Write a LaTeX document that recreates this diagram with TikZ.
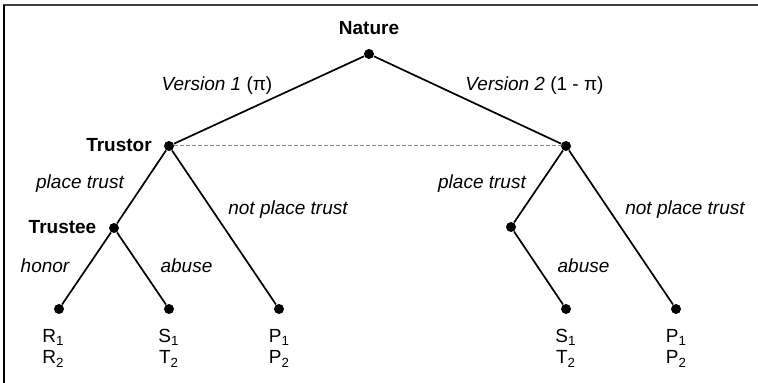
\documentclass[tikz,border=0pt]{standalone}
\usepackage{fontspec}
\setmainfont{Liberation Sans}
\newcommand{\dsize}{\fontsize{9.5}{11.5}\selectfont}
\begin{document}
\begin{tikzpicture}[x=0.5pt,y=-0.5pt,
  dot/.style={circle,fill=black,inner sep=0pt,minimum size=5pt},
  branch/.style={line width=0.85pt},
  info/.style={black!45,line width=0.5pt,dash pattern=on 2pt off 1pt},
  player/.style={anchor=base,inner sep=0pt,font=\dsize\bfseries},
  act/.style={anchor=base,inner sep=0pt,font=\dsize},
  pay/.style={anchor=base,inner sep=0pt,font=\dsize}]
\useasboundingbox (0,0) rectangle (758,383);
\draw[line width=1pt, black!75] (3,5) -- (758,5);
\draw[line width=1pt] (3.5,5) -- (3.5,383);
% decision nodes
\node[dot] (nat) at (369,54) {};
\node[dot] (tl) at (169,146) {};
\node[dot] (tr) at (566,146) {};
\node[dot] (tel) at (114,228) {};
\node[dot] (ter) at (511,227) {};
\node[dot] (l1) at (59,309) {};
\node[dot] (l2) at (169,309) {};
\node[dot] (l3) at (279,309) {};
\node[dot] (l4) at (566,309) {};
\node[dot] (l5) at (676,309) {};
% branches
\draw[branch] (nat) -- (tl);
\draw[branch] (nat) -- (tr);
\draw[branch] (tl) -- (tel);
\draw[branch] (tl) -- (l3);
\draw[branch] (tel) -- (l1);
\draw[branch] (tel) -- (l2);
\draw[branch] (tr) -- (ter);
\draw[branch] (tr) -- (l5);
\draw[branch] (ter) -- (l4);
\draw[info] (tl) -- (tr);
% player labels
\node[player] (natlab) at (369,35) {Nature};
\node[player] (tllab) at (119,152) {Trustor};
\node[player] (tellab) at (62.5,234) {Trustee};
% action labels
\node[act] (v1) at (217,91) {\itshape Version 1 \upshape(π)};
\node[act] (v2) at (534.5,91) {\itshape Version 2 \upshape(1 - π)};
\node[act] (ptl) at (80,189) {\itshape place trust};
\node[act] (ptr) at (482,189) {\itshape place trust};
\node[act] (nptl) at (288,215) {\itshape not place trust};
\node[act] (nptr) at (685,215) {\itshape not place trust};
\node[act] (hon) at (45,273) {\itshape honor};
\node[act] (abl) at (186.5,273) {\itshape abuse};
\node[act] (abr) at (583.5,273) {\itshape abuse};
% payoffs
\node[pay] (p1a) at (53.5,343) {R\textsubscript{1}};
\node[pay] (p1b) at (53.5,364) {R\textsubscript{2}};
\node[pay] (p2a) at (169,343) {S\textsubscript{1}};
\node[pay] (p2b) at (169,364) {T\textsubscript{2}};
\node[pay] (p3a) at (279.5,343) {P\textsubscript{1}};
\node[pay] (p3b) at (279.5,364) {P\textsubscript{2}};
\node[pay] (p4a) at (566,343) {S\textsubscript{1}};
\node[pay] (p4b) at (566,364) {T\textsubscript{2}};
\node[pay] (p5a) at (676.5,343) {P\textsubscript{1}};
\node[pay] (p5b) at (676.5,364) {P\textsubscript{2}};
\end{tikzpicture}
\end{document}
